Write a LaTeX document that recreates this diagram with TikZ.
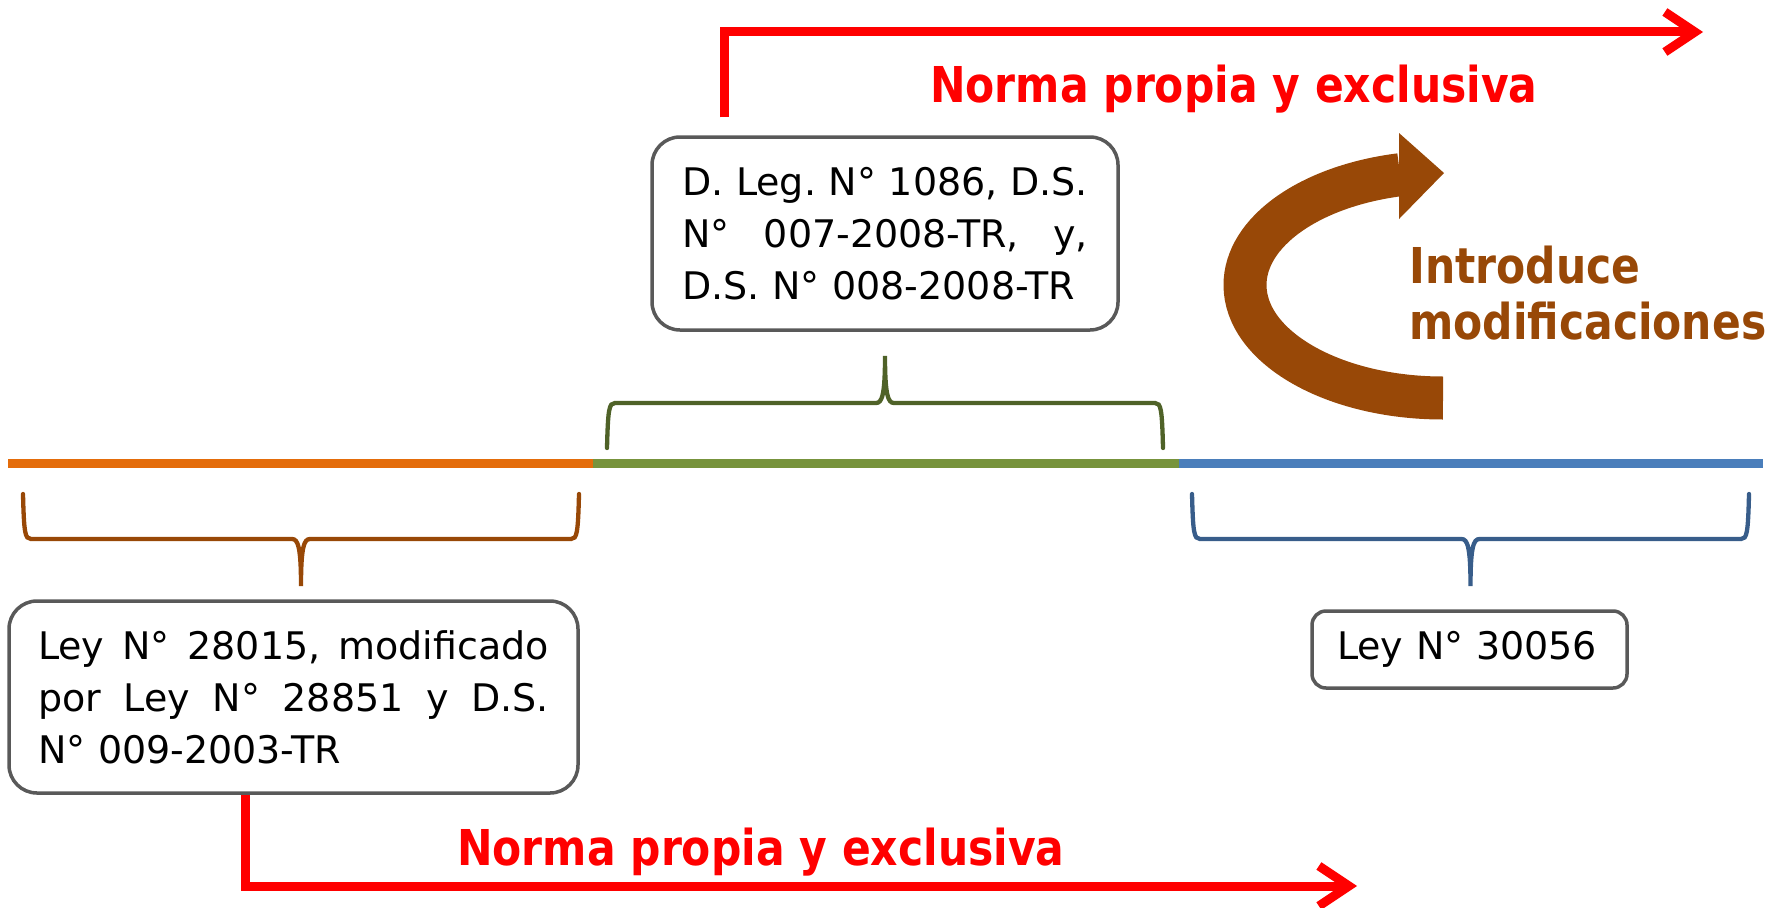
\documentclass[tikz,border=0pt]{standalone}
\usepackage{fontspec}
\setmainfont{DejaVu Sans}
\newfontfamily\tagfont{DejaVu Sans}[FakeStretch=0.86]
\usepackage{tikz}
\usetikzlibrary{arrows.meta, positioning}

\definecolor{lineorange}{HTML}{E46C0A}
\definecolor{linegreen}{HTML}{77933C}
\definecolor{lineblue}{HTML}{4A7EBB}
\definecolor{darkbrown}{HTML}{984807}
\definecolor{darkolive}{HTML}{4F6228}
\definecolor{darkblue}{HTML}{385D8A}
\definecolor{boxgray}{HTML}{595959}

% brace on the time line: left x, right x, y of the ends, 1 = tip below / (-1) = tip above, colour
\newcommand{\timebrace}[5]{%
  \draw[bracestroke, #5] (#1,#3)
    .. controls ({#1+1},{#3+#4*39}) and ({#1+2},{#3+#4*45}) .. ({#1+8},{#3+#4*45})
    -- ({(#1+#2)/2-9},{#3+#4*45})
    .. controls ({(#1+#2)/2-3},{#3+#4*45}) and ({(#1+#2)/2},{#3+#4*53}) .. ({(#1+#2)/2},{#3+#4*92})
    .. controls ({(#1+#2)/2},{#3+#4*53}) and ({(#1+#2)/2+3},{#3+#4*45}) .. ({(#1+#2)/2+9},{#3+#4*45})
    -- ({#2-8},{#3+#4*45})
    .. controls ({#2-2},{#3+#4*45}) and ({#2-1},{#3+#4*39}) .. (#2,#3);}

\begin{document}
\begin{tikzpicture}[x=1pt, y=-1pt,
    lawbox/.style = {draw=boxgray, line width=3.5pt, rounded corners=28pt, align=left,
                     font=\fontsize{38}{52}\selectfont},
    normalabel/.style = {text=red, inner sep=0pt,
                     font=\tagfont\fontsize{49.4}{56}\selectfont\bfseries},
    redarrow/.style = {draw=red, line width=9pt, -{Straight Barb[length=30pt,width=40pt]}},
    timeline/.style = {line width=8.5pt},
    bracestroke/.style = {line width=4.3pt, line cap=round}]
    \useasboundingbox (0,0) rectangle (1784,907);

    % time line
    \coordinate (t0) at (8,463.5);
    \coordinate (t1) at (593,463.5);
    \coordinate (t2) at (1179,463.5);
    \coordinate (t3) at (1763,463.5);
    \draw[timeline, lineorange] (t0) -- (t1);
    \draw[timeline, linegreen] (t1) -- (t2);
    \draw[timeline, lineblue] (t2) -- (t3);

    \timebrace{23}{579}{494}{1}{darkbrown}
    \timebrace{607}{1163}{448}{(-1)}{darkolive}
    \timebrace{1192}{1749}{494}{1}{darkblue}

    % norms
    \node (dleg) [lawbox, text width=406pt, inner xsep=30pt, minimum height=193pt] at (885,233.5)
        {D.\hfill Leg.\hfill N°\hfill 1086,\hfill D.S.\\ N°\hfill 007-2008-TR,\hfill y,\\ D.S. N° 008-2008-TR};
    \node (ley28015) [lawbox, text width=511pt, inner xsep=29pt, minimum height=192pt] at (293.5,697)
        {Ley\hfill N°\hfill 28015,\hfill modificado\\ por\hfill Ley\hfill N°\hfill 28851\hfill y\hfill D.S.\\ N° 009-2003-TR};
    \node (ley30056) [lawbox, rounded corners=14pt, text width=265pt, inner xsep=25pt, minimum height=77pt] at (1469.5,649.5)
        {Ley N° 30056};

    % labels
    \node (normatop) [normalabel, anchor=base west] at (930,102) {Norma propia y exclusiva};
    \node (normabot) [normalabel, anchor=base west] at (457,865) {Norma propia y exclusiva};
    \node (intro) [normalabel, text=darkbrown, align=left, anchor=north west] at (1409,246)
        {Introduce\\modificaciones};

    % arrows
    \coordinate (topend) at (1703,32);
    \coordinate (botend) at (1357,886);
    \draw[redarrow] ([xshift=74pt,yshift=18pt]dleg.north west) |- (topend);
    \draw[redarrow] ([xshift=238pt]ley28015.south west) |- (botend);

    \draw[darkbrown, line width=43pt] (1443,398) arc[start angle=90, end angle=257.5, x radius=198, y radius=113];
    \fill[darkbrown] (1399,133) -- (1444,173) -- (1399,219) -- cycle;
\end{tikzpicture}
\end{document}
